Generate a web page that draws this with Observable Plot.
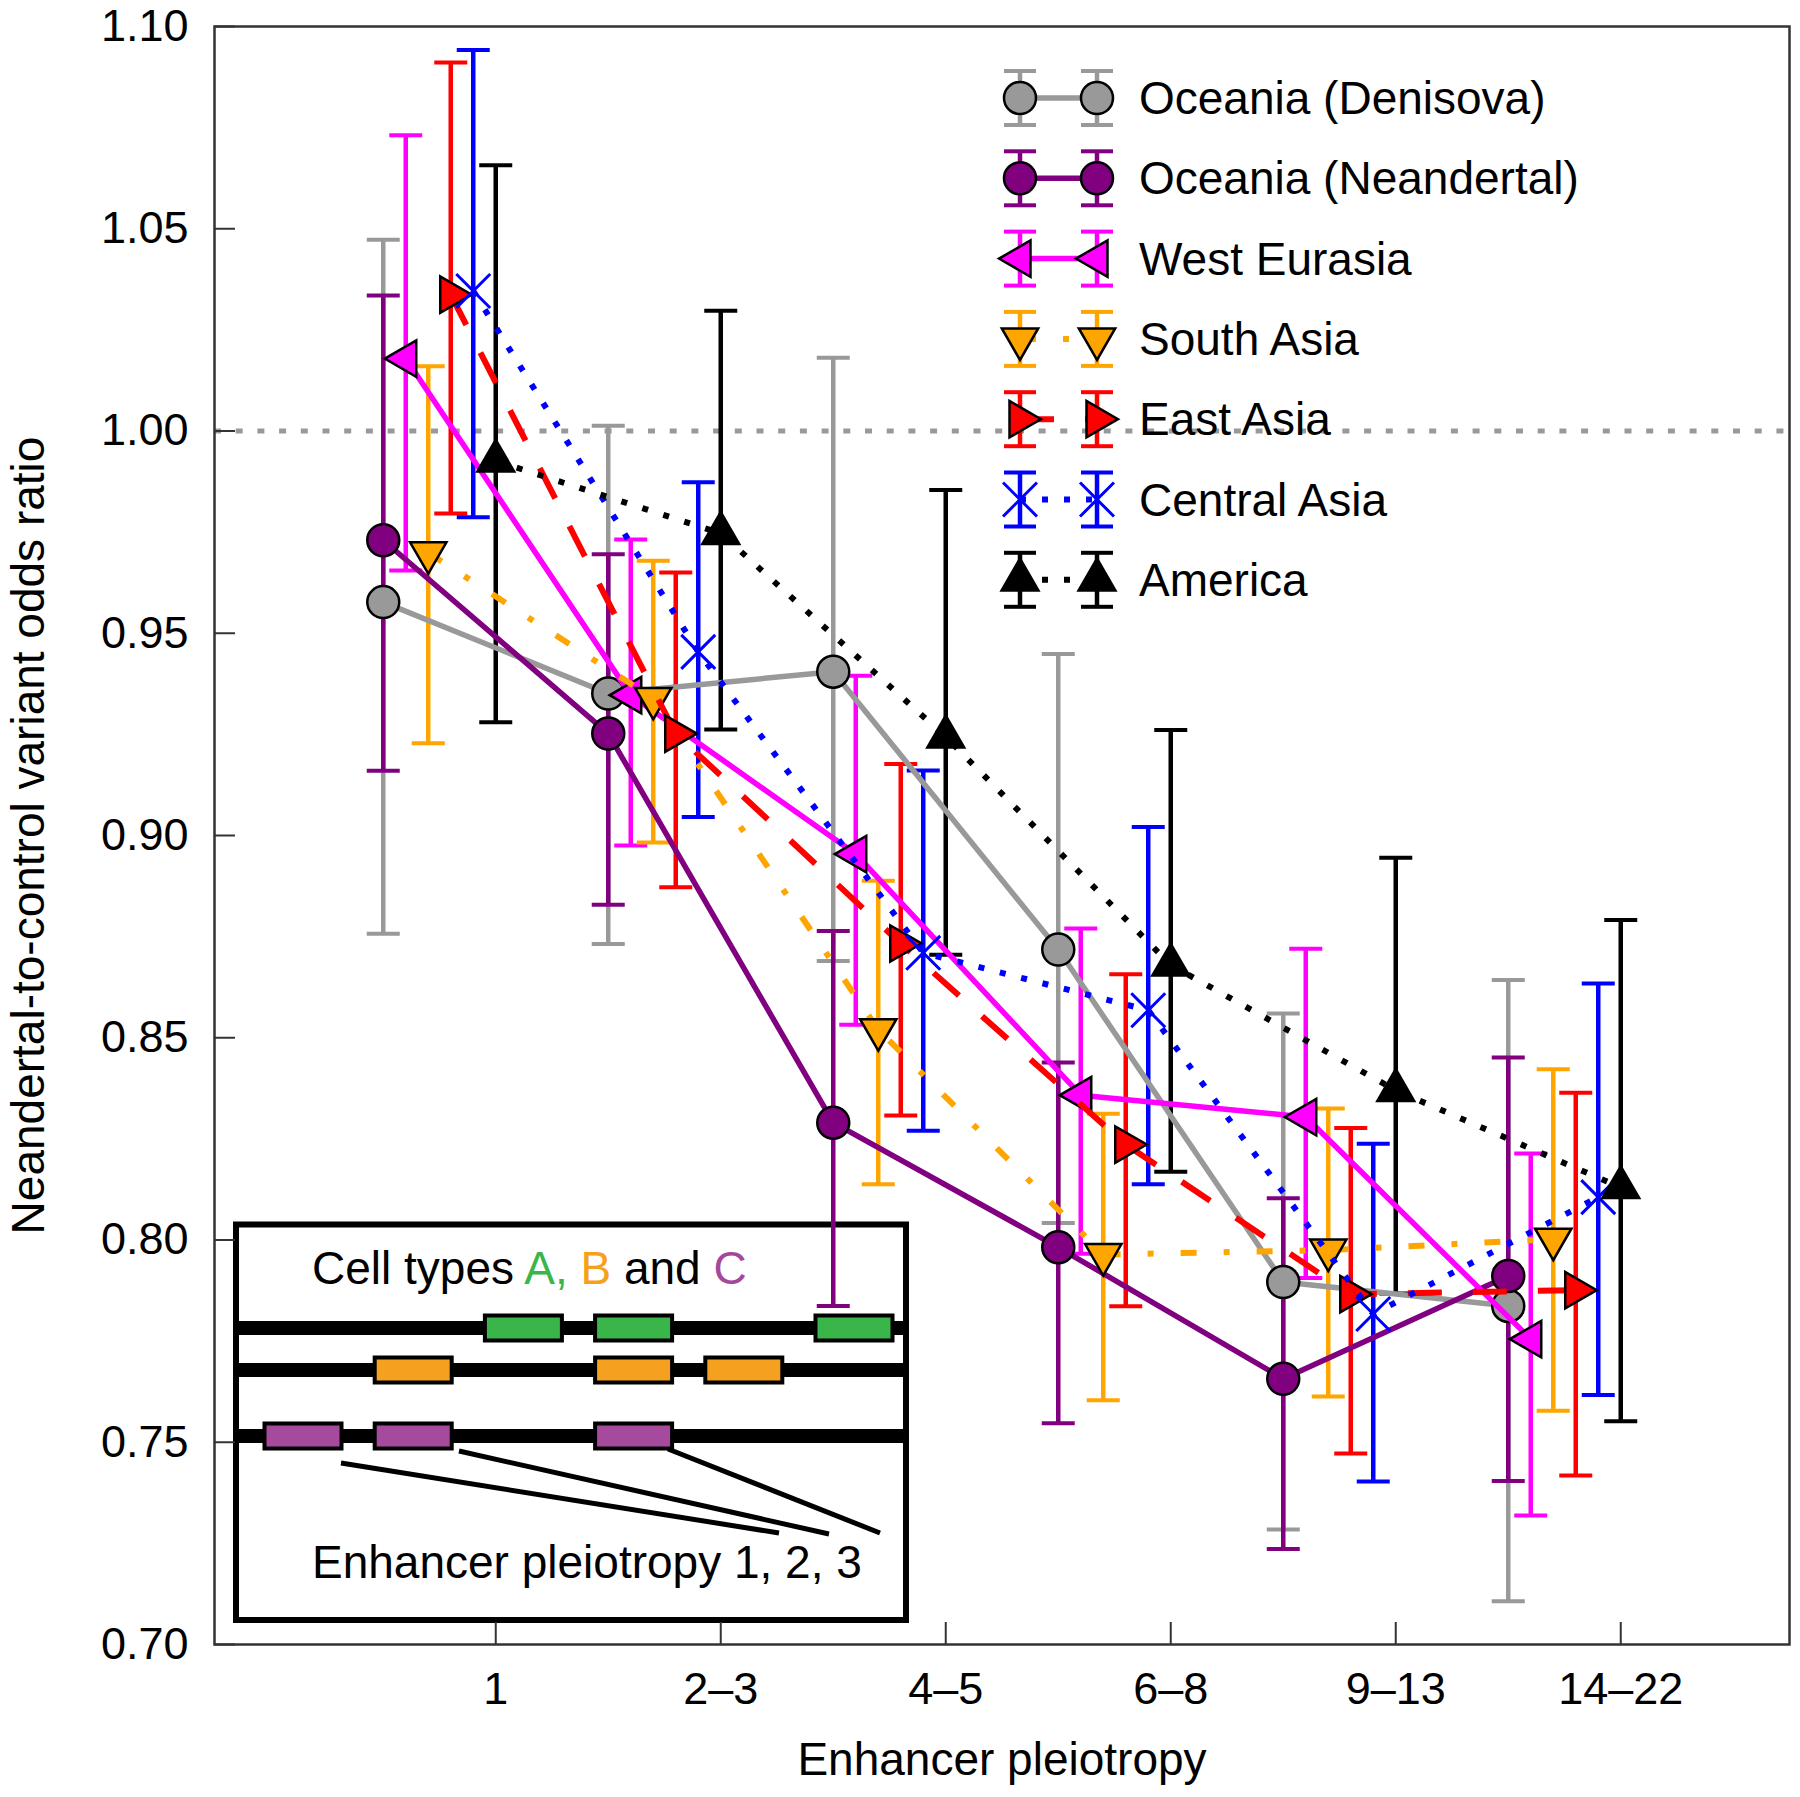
<!DOCTYPE html>
<html>
<head>
<meta charset="utf-8">
<script src="https://cdn.jsdelivr.net/npm/d3@7"></script>
<script src="https://cdn.jsdelivr.net/npm/@observablehq/plot@0.6"></script>
<style>
  html, body { margin: 0; padding: 0; background: #fff; }
  #chart { width: 1800px; height: 1797px; }
</style>
</head>
<body>
<div id="chart"></div>
<script>
// ---------------- data ----------------
const categories = ["1", "2–3", "4–5", "6–8", "9–13", "14–22"];
const seriesNames = ["Oceania (Denisova)", "Oceania (Neandertal)", "West Eurasia", "South Asia", "East Asia", "Central Asia", "America"];
const yTickValues = [0.70, 0.75, 0.80, 0.85, 0.90, 0.95, 1.00, 1.05, 1.10];
const xLabel = "Enhancer pleiotropy";
const yLabel = "Neandertal-to-control variant odds ratio";

const denisovaOR = [0.9577, 0.9351, 0.9405, 0.8718, 0.7896, 0.7837];
const denisovaLo = [0.8757, 0.8732, 0.8690, 0.8042, 0.7284, 0.7107];
const denisovaHi = [1.0473, 1.0013, 1.0181, 0.9449, 0.8560, 0.8643];

const neandertalOR = [0.9730, 0.9252, 0.8290, 0.7982, 0.7657, 0.7911];
const neandertalLo = [0.9160, 0.8829, 0.7837, 0.7547, 0.7236, 0.7404];
const neandertalHi = [1.0335, 0.9695, 0.8764, 0.8439, 0.8103, 0.8451];

const westEurasiaOR = [1.0179, 0.9347, 0.8954, 0.8358, 0.8304, 0.7755];
const westEurasiaLo = [0.9655, 0.8975, 0.8532, 0.7966, 0.7906, 0.7319];
const westEurasiaHi = [1.0731, 0.9732, 0.9395, 0.8770, 0.8720, 0.8214];

const southAsiaOR = [0.9699, 0.9339, 0.8520, 0.7964, 0.7975, 0.8002];
const southAsiaLo = [0.9228, 0.8983, 0.8138, 0.7604, 0.7613, 0.7578];
const southAsiaHi = [1.0160, 0.9679, 0.8888, 0.8312, 0.8325, 0.8422];

const eastAsiaOR = [1.0337, 0.9252, 0.8733, 0.8236, 0.7866, 0.7876];
const eastAsiaLo = [0.9796, 0.8872, 0.8308, 0.7836, 0.7472, 0.7418];
const eastAsiaHi = [1.0911, 0.9650, 0.9177, 0.8657, 0.8277, 0.8364];

const centralAsiaOR = [1.0346, 0.9454, 0.8710, 0.8568, 0.7817, 0.8106];
const centralAsiaLo = [0.9787, 0.9046, 0.8270, 0.8138, 0.7403, 0.7617];
const centralAsiaHi = [1.0942, 0.9873, 0.9161, 0.9021, 0.8238, 0.8634];

const americaOR = [0.9926, 0.9747, 0.9244, 0.8680, 0.8370, 0.8130];
const americaLo = [0.9280, 0.9262, 0.8705, 0.8169, 0.7868, 0.7552];
const americaHi = [1.0657, 1.0297, 0.9854, 0.9261, 0.8945, 0.8791];

// inset schematic: enhancer slots occupied by each cell type
const insetTitleParts = [["Cell types ", "#000"], ["A,", "#39b54a"], [" B", "#f7a11a"], [" and ", "#000"], ["C", "#a4489c"]];
const cellTypeASlots = [2, 3, 5];
const cellTypeBSlots = [1, 3, 4];
const cellTypeCSlots = [0, 1, 3];
const insetCaption = "Enhancer pleiotropy 1, 2, 3";

// ---------------- styling ----------------
const sqrt3 = Math.sqrt(3);
function triangle(angleDeg) {
  const a = angleDeg * Math.PI / 180, c = Math.cos(a), s = Math.sin(a);
  return {
    draw(ctx, size) {
      const y = -Math.sqrt(size / (sqrt3 * 3));
      const pts = [[0, 2 * y], [-sqrt3 * y, -y], [sqrt3 * y, -y]];
      pts.forEach(([px, py], i) => {
        const rx = px * c - py * s, ry = px * s + py * c;
        if (i) ctx.lineTo(rx, ry); else ctx.moveTo(rx, ry);
      });
      ctx.closePath();
    }
  };
}
const capSymbol = {
  draw(ctx, size) {
    const r = Math.sqrt(size / Math.PI);
    ctx.moveTo(-r, 0);
    ctx.lineTo(r, 0);
  }
};

const styles = [
  {color: "#999999", symbol: d3.symbolCircle, r: 16, fill: "#999999", stroke: "#000", sw: 2.5, lineWidth: 5.5, dash: null, cap: "butt"},
  {color: "#800080", symbol: d3.symbolCircle, r: 16, fill: "#800080", stroke: "#000", sw: 2.5, lineWidth: 5.5, dash: null, cap: "butt"},
  {color: "#ff00ff", symbol: triangle(-90), r: 13.5, fill: "#ff00ff", stroke: "#000", sw: 2.5, lineWidth: 5.5, dash: null, cap: "butt"},
  {color: "#ffa500", symbol: triangle(180), r: 13.5, fill: "#ffa500", stroke: "#000", sw: 2.5, lineWidth: 6, dash: "16,27,6,27", cap: "butt"},
  {color: "#ff0000", symbol: triangle(90), r: 13.5, fill: "#ff0000", stroke: "#000", sw: 2.5, lineWidth: 6, dash: "34,31", cap: "butt"},
  {color: "#0000ff", symbol: d3.symbolTimes, r: 15.5, fill: "none", stroke: "#0000ff", sw: 3, lineWidth: 6, dash: "6,16", cap: "butt"},
  {color: "#000000", symbol: triangle(0), r: 14, fill: "#000", stroke: "#000", sw: 2, lineWidth: 6, dash: "6,16", cap: "butt"}
];
const offsets = [-0.5, -0.5, -0.4, -0.3, -0.2, -0.1, 0];

const seriesData = [
  [denisovaOR, denisovaLo, denisovaHi],
  [neandertalOR, neandertalLo, neandertalHi],
  [westEurasiaOR, westEurasiaLo, westEurasiaHi],
  [southAsiaOR, southAsiaLo, southAsiaHi],
  [eastAsiaOR, eastAsiaLo, eastAsiaHi],
  [centralAsiaOR, centralAsiaLo, centralAsiaHi],
  [americaOR, americaLo, americaHi]
];
const rows = seriesData.map(([or, lo, hi], k) =>
  categories.map((c, i) => ({series: seriesNames[k], category: c, x: i + 1 + offsets[k], y: or[i], lo: lo[i], hi: hi[i]}))
);

// ---------------- layout ----------------
const W = 1800, H = 1797, ML = 214, MR = 11, MT = 26, MB = 153;
const frameW = W - ML - MR, frameH = H - MT - MB;
const FONT = "'Liberation Sans', Arial, Helvetica, sans-serif";
const axisColor = "#333";

// inset schematic drawn as a render-function mark
function insetMark() {
  const g = d3.create("svg:g").attr("font-family", FONT).attr("text-anchor", "start");
  const box = {x0: 236, x1: 906, y0: 1224.5, y1: 1620};
  g.append("rect").attr("x", box.x0).attr("y", box.y0).attr("width", box.x1 - box.x0).attr("height", box.y1 - box.y0)
    .attr("fill", "#fff").attr("stroke", "#000").attr("stroke-width", 6);
  const title = g.append("text").attr("x", 312).attr("y", 1268).attr("dy", "0.35em").attr("font-size", 46).attr("text-anchor", "start");
  insetTitleParts.forEach(([t, col]) => title.append("tspan").attr("fill", col).text(t));
  const slotX = d3.scaleLinear([0, 5], [303, 854]);
  const tracks = [
    {slots: cellTypeASlots, y: 1328, fill: "#3ab54a"},
    {slots: cellTypeBSlots, y: 1370, fill: "#f6a01f"},
    {slots: cellTypeCSlots, y: 1436, fill: "#a64a9d"}
  ];
  tracks.forEach(tr => {
    g.append("line").attr("x1", box.x0).attr("x2", box.x1).attr("y1", tr.y).attr("y2", tr.y)
      .attr("stroke", "#000").attr("stroke-width", 14);
    tr.slots.forEach(s => {
      g.append("rect").attr("x", slotX(s) - 38.5).attr("y", tr.y - 12.5).attr("width", 77).attr("height", 25)
        .attr("fill", tr.fill).attr("stroke", "#000").attr("stroke-width", 4);
    });
  });
  const leaders = [[341, 1463, 779, 1533], [459, 1451, 829, 1534], [668, 1449, 880, 1533]];
  leaders.forEach(([x1, y1, x2, y2]) => g.append("line").attr("x1", x1).attr("y1", y1).attr("x2", x2).attr("y2", y2)
    .attr("stroke", "#000").attr("stroke-width", 5));
  g.append("text").attr("x", 312).attr("y", 1562).attr("dy", "0.35em").attr("font-size", 46).attr("text-anchor", "start")
    .attr("fill", "#000").text(insetCaption);
  return g.node();
}

// legend drawn as a render-function mark
function legendMark() {
  const g = d3.create("svg:g").attr("font-family", FONT).attr("text-anchor", "start");
  const x1 = 1020, x2 = 1097, tx = 1139, y0 = 98, dy = 80.3;
  styles.forEach((st, i) => {
    const y = y0 + i * dy;
    [x1, x2].forEach(x => {
      g.append("line").attr("x1", x).attr("x2", x).attr("y1", y - 27).attr("y2", y + 27)
        .attr("stroke", st.color).attr("stroke-width", 4.5);
      [y - 27, y + 27].forEach(yc => g.append("line").attr("x1", x - 16).attr("x2", x + 16).attr("y1", yc).attr("y2", yc)
        .attr("stroke", st.color).attr("stroke-width", 4));
    });
    const ln = g.append("line").attr("x1", x1).attr("x2", x2).attr("y1", y).attr("y2", y)
      .attr("stroke", st.color).attr("stroke-width", st.lineWidth).attr("stroke-linecap", st.cap);
    if (st.dash) ln.attr("stroke-dasharray", st.dash);
    [x1, x2].forEach(x => {
      g.append("path").attr("transform", `translate(${x},${y})`)
        .attr("d", d3.symbol(st.symbol, Math.PI * st.r * st.r)())
        .attr("fill", st.fill).attr("stroke", st.stroke).attr("stroke-width", st.sw);
    });
    g.append("text").attr("x", tx).attr("y", y).attr("dy", "0.35em").attr("font-size", 46).attr("text-anchor", "start")
      .attr("fill", "#000").text(seriesNames[i]);
  });
  return g.node();
}

const marks = [];
marks.push(insetMark);
marks.push(Plot.ruleY([1], {stroke: "#999", strokeWidth: 5, strokeDasharray: "7,14.7"}));
// error bars for every series first
rows.forEach((r, k) => {
  const st = styles[k];
  marks.push(Plot.ruleX(r, {x: "x", y1: "lo", y2: "hi", stroke: st.color, strokeWidth: 4.5}));
  marks.push(Plot.dot(r, {x: "x", y: "hi", symbol: capSymbol, r: 16.5, stroke: st.color, strokeWidth: 4, fill: "none"}));
  marks.push(Plot.dot(r, {x: "x", y: "lo", symbol: capSymbol, r: 16.5, stroke: st.color, strokeWidth: 4, fill: "none"}));
});
// then lines and points per series
rows.forEach((r, k) => {
  const st = styles[k];
  marks.push(Plot.line(r, {x: "x", y: "y", stroke: st.color, strokeWidth: st.lineWidth, strokeDasharray: st.dash || undefined, strokeLinecap: st.cap}));
  marks.push(Plot.dot(r, {x: "x", y: "y", symbol: st.symbol, r: st.r, fill: st.fill, stroke: st.stroke, strokeWidth: st.sw}));
});
marks.push(legendMark);
// axes, ticks and frame
marks.push(Plot.ruleY(yTickValues, {y: d => d, insetRight: frameW - 21, stroke: axisColor, strokeWidth: 2}));
marks.push(Plot.ruleX(categories.map((c, i) => i + 1), {x: d => d, insetTop: frameH - 22, stroke: axisColor, strokeWidth: 2}));
marks.push(Plot.frame({stroke: axisColor, strokeWidth: 2.5}));
marks.push(Plot.axisY({ticks: yTickValues, tickFormat: d3.format(".2f"), tickSize: 0, tickPadding: 26, fontSize: 45, label: null}));
marks.push(Plot.axisX({ticks: categories.map((c, i) => i + 1), tickFormat: d => categories[d - 1], tickSize: 0, tickPadding: 28, fontSize: 45, label: null}));
marks.push(Plot.text([xLabel], {text: d => d, frameAnchor: "bottom", lineAnchor: "middle", textAnchor: "middle", dy: 116, fontSize: 46, fill: "#000"}));
marks.push(Plot.text([yLabel], {text: d => d, frameAnchor: "left", lineAnchor: "middle", textAnchor: "middle", dx: -185, rotate: -90, fontSize: 46, fill: "#000"}));

const chart = Plot.plot({
  width: W,
  height: H,
  marginLeft: ML,
  marginRight: MR,
  marginTop: MT,
  marginBottom: MB,
  style: {fontFamily: FONT, background: "#fff", color: "#000"},
  x: {type: "linear", domain: [-0.25, 6.75]},
  y: {type: "linear", domain: [0.70, 1.10]},
  marks
});
document.getElementById("chart").appendChild(chart);
</script>
</body>
</html>
